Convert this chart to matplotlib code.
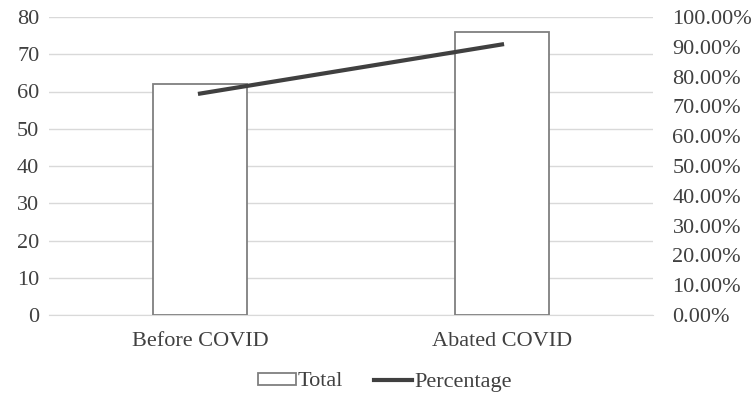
import matplotlib
matplotlib.use("Agg")
import matplotlib.pyplot as plt
from matplotlib.ticker import FuncFormatter, MultipleLocator
from matplotlib.lines import Line2D
from matplotlib.patches import Patch

categories = ["Before COVID", "Abated COVID"]
totals = [62, 76]
percentages = [74.3, 90.8]

plt.rcParams['font.family'] = ['Liberation Serif', 'DejaVu Serif']
txt = '#404040'
fs = 16

fig = plt.figure(figsize=(7.53, 3.97), dpi=100)
W, H = 753, 397
ax = fig.add_axes([49 / W, 1 - 315 / H, (653 - 49) / W, (315 - 17) / H])
x = list(range(len(categories)))
ax.bar(x, totals, width=0.31, facecolor='white', edgecolor='#7f7f7f', linewidth=1.3, zorder=3)
ax.set_xlim(-0.5, 1.5)
ax.set_ylim(0, 80)
ax.yaxis.set_major_locator(MultipleLocator(10))
ax.grid(axis='y', color='#d9d9d9', linewidth=1, zorder=0)
ax.set_axisbelow(True)
for s in ax.spines.values():
    s.set_visible(False)
ax.spines['bottom'].set_visible(True)
ax.spines['bottom'].set_color('#d9d9d9')
ax.tick_params(axis='both', length=0, labelsize=fs, colors=txt)
ax.set_xticks(x)
ax.set_xticklabels(categories)
ax.tick_params(axis='x', pad=12)
ax.tick_params(axis='y', pad=7)

ax2 = ax.twinx()
ax2.plot(x, percentages, color='#404040', linewidth=3, zorder=4)
ax2.set_ylim(0, 100)
ax2.yaxis.set_major_locator(MultipleLocator(10))
ax2.yaxis.set_major_formatter(FuncFormatter(lambda v, p: f"{v:.2f}%"))
for s in ax2.spines.values():
    s.set_visible(False)
ax2.tick_params(axis='y', length=0, labelsize=fs, colors=txt, pad=14)

handles = [Patch(facecolor='white', edgecolor='#7f7f7f', linewidth=1.3),
           Line2D([0], [0], color='#404040', linewidth=3)]
fig.legend(handles, ["Total", "Percentage"], loc='center', bbox_to_anchor=(385 / W, 1 - 382 / H),
           ncol=2, frameon=False, fontsize=fs, labelcolor=txt, handlelength=1.7,
           handleheight=0.45, handletextpad=0.1, columnspacing=1.4)

fig.savefig("out.png", dpi=100)
